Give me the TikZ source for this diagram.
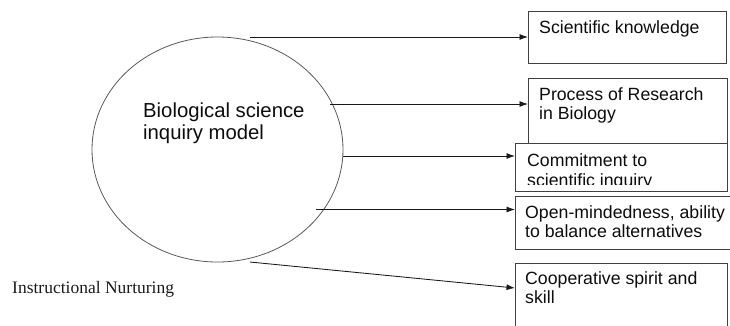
\documentclass[tikz,border=0pt]{standalone}
\usepackage{fontspec}
\setmainfont{Liberation Serif}
\setsansfont{Liberation Sans}
\usetikzlibrary{positioning,shapes,arrows.meta}
\tikzset{
    %Define standard arrow tip
    >={Latex[length=8.5pt,width=6pt]},
    %Define style for boxes
    kasten/.style={
           rectangle,
           draw=black!75, line width=0.9pt,
           fill=white,
           anchor=north west,
           inner sep=0pt},
    %Define style for the box texts
    kastentext/.style={
           font=\sffamily\fontsize{17.7}{19.4}\selectfont,
           text=black!95,
           align=left,
           inner sep=0pt},
    % Define arrow style
    pfeil/.style={
           ->,
           draw=black!90,
           line width=0.85pt}
}

\begin{document}
\begin{tikzpicture}[x=1pt,y=-1pt]
\path[use as bounding box,clip] (0,0) rectangle (730,325);
% model
\node [ellipse,draw=black!65,line width=0.8pt,inner sep=0pt,
       minimum width=251pt,minimum height=225pt] (modell) at (217.5,149.5) {};
\node [anchor=north west,inner sep=0pt,align=left,text=black!95,
       font=\sffamily\fontsize{20.3}{22}\selectfont] (modelltext) at (143,102.6)
       {Biological science\\inquiry model};
\node [anchor=base west,inner sep=0pt,text=black!90,
       font=\fontsize{17.5}{20}\selectfont] (nurturing) at (12,293)
       {Instructional Nurturing};
% boxes
\node [kasten,minimum width=198pt,minimum height=52pt] (box1) at (528,11) {};
\node [kasten,minimum width=199pt,minimum height=66pt] (box2) at (528,77.5) {};
\node [kasten,minimum width=212pt,minimum height=48pt] (box3) at (515,143) {};
\node [kasten,minimum width=214.5pt,minimum height=52.5pt] (box4) at (515,196) {};
\node [kasten,minimum width=212pt,minimum height=70pt] (box5) at (515,263) {};
\node [kastentext,below right=9.3pt and 11pt of box1.north west] (text1)
      {Scientific knowledge};
\node [kastentext,below right=9.8pt and 11pt of box2.north west] (text2)
      {Process of Research\\in Biology};
\begin{scope}
\clip (box3.north west) rectangle (box3.east |- 0,184.5);
\node [kastentext,below right=10.8pt and 12pt of box3.north west] (text3)
      {Commitment to\\scientific inquiry};
\end{scope}
\node [kastentext,below right=9.3pt and 10pt of box4.north west] (text4)
      {Open-mindedness, ability\\to balance alternatives};
\node [kastentext,below right=8.3pt and 10pt of box5.north west] (text5)
      {Cooperative spirit and\\skill};
% connectors
\coordinate (a1) at (250,37);
\coordinate (a2) at (330,104);
\coordinate (a3) at (343,156);
\coordinate (a4) at (316,209.5);
\coordinate (a5) at (250,262);
\coordinate (e5) at (515,288);
\draw [pfeil] (a1) -- (a1 -| box1.west);
\draw [pfeil] (a2) -- (a2 -| box2.west);
\draw [pfeil] (a3) -- (a3 -| box3.west);
\draw [pfeil] (a4) -- (a4 -| box4.west);
\draw [pfeil] (a5) -- (e5);
\end{tikzpicture}
\end{document}
